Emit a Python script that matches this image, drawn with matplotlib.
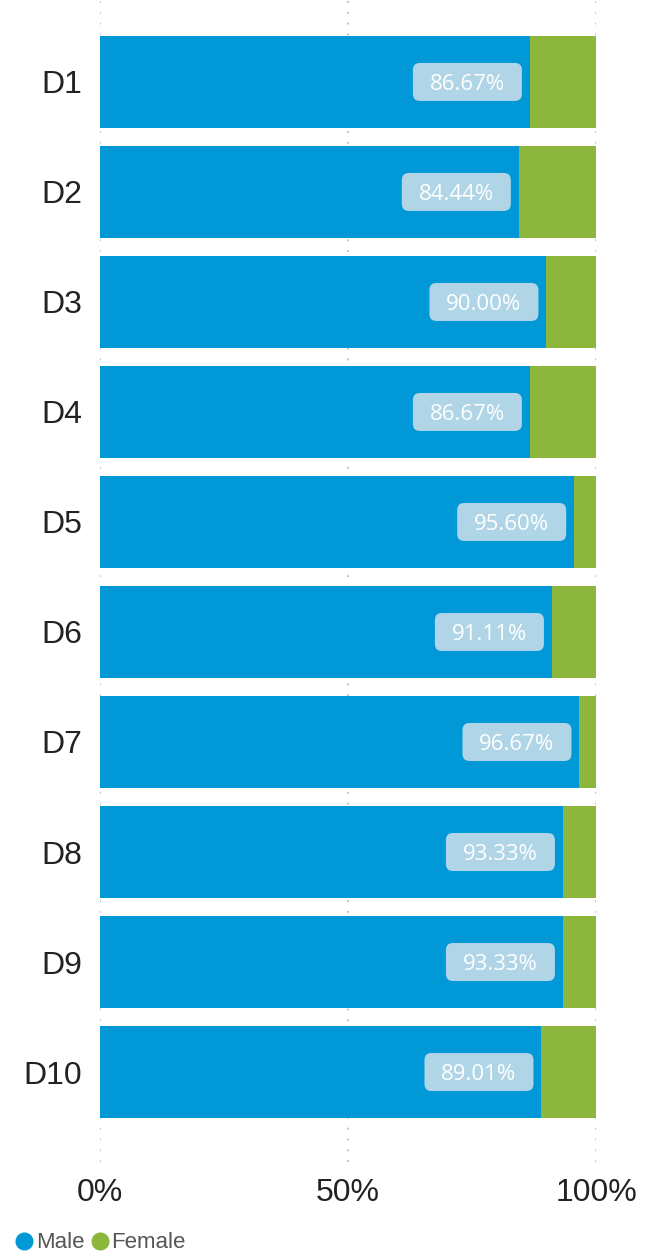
import matplotlib
matplotlib.use("Agg")
import matplotlib.pyplot as plt
from matplotlib.lines import Line2D
from matplotlib.patches import FancyBboxPatch
from matplotlib.transforms import IdentityTransform
from matplotlib import font_manager

categories = ["D1", "D2", "D3", "D4", "D5", "D6", "D7", "D8", "D9", "D10"]
male = [86.67, 84.44, 90.00, 86.67, 95.60, 91.11, 96.67, 93.33, 93.33, 89.01]
female = [round(100 - m, 2) for m in male]
xticks = [0, 50, 100]
xtick_labels = ["0%", "50%", "100%"]

BLUE = "#0098d6"
GREEN = "#8db63c"
W, H = 662, 1256
fig = plt.figure(figsize=(W / 100, H / 100), dpi=100)
ax = fig.add_axes([100 / W, (H - 1162) / H, 496 / W, 1162 / H])

y = list(range(len(categories)))
ax.barh(y, male, height=0.836, color=BLUE, zorder=2)
ax.barh(y, female, left=male, height=0.836, color=GREEN, zorder=2)

ax.set_xlim(0, 100)
ax.set_ylim(9.818, -0.745)

# value labels: rounded boxes just inside the end of each blue bar
BOX_W, BOX_H, GAP = 109, 38, 8
for i, m in enumerate(male):
    px, py = ax.transData.transform((m, i))
    x0 = px - GAP - BOX_W
    y0 = py - BOX_H / 2
    box = FancyBboxPatch((x0 + 7, y0 + 7), BOX_W - 14, BOX_H - 14,
                         boxstyle="round,pad=7", fc="#afd5e7", ec="none",
                         transform=IdentityTransform(), zorder=3)
    ax.add_artist(box)
    ax.text(x0 + BOX_W / 2, py - 8, f"{m:.2f}%", transform=IdentityTransform(),
            ha="center", va="baseline", color="white", fontsize=16,
            family=["Open Sans", "DejaVu Sans"], zorder=4)

ax.set_xticks(xticks)
ax.set_xticklabels(xtick_labels, family=["Liberation Sans", "DejaVu Sans"],
                   fontsize=23, color="#222222")
ax.set_yticks(y)
ax.set_yticklabels(categories, family=["Liberation Sans", "DejaVu Sans"],
                   fontsize=23, color="#222222")
ax.tick_params(axis="both", length=0)
ax.tick_params(axis="x", pad=11.5)
ax.tick_params(axis="y", pad=13)
for s in ax.spines.values():
    s.set_visible(False)
ax.grid(axis="x", color="#bbbbbb", linestyle=(0, (1, 5)), linewidth=1.3, zorder=0)
ax.grid(axis="y", visible=False)

names = {f.name for f in font_manager.fontManager.ttflist}
if "Liberation Sans Narrow" in names:
    leg_family, leg_size = ["Liberation Sans Narrow", "DejaVu Sans"], 17.5
else:
    leg_family, leg_size = ["Liberation Sans", "DejaVu Sans"], 16

handles = [Line2D([], [], marker="o", linestyle="none", markersize=13,
                  markerfacecolor=BLUE, markeredgecolor="none"),
           Line2D([], [], marker="o", linestyle="none", markersize=13,
                  markerfacecolor=GREEN, markeredgecolor="none")]
fig.legend(handles, ["Male", "Female"], loc="center left",
           bbox_to_anchor=(15 / W, (H - 1243) / H), ncol=2, frameon=False,
           borderpad=0, borderaxespad=0,
           handletextpad=0.1, columnspacing=0.25, handlelength=0.85,
           prop={"family": leg_family, "size": leg_size},
           labelcolor="#555555")

fig.savefig("out.png", dpi=100)
